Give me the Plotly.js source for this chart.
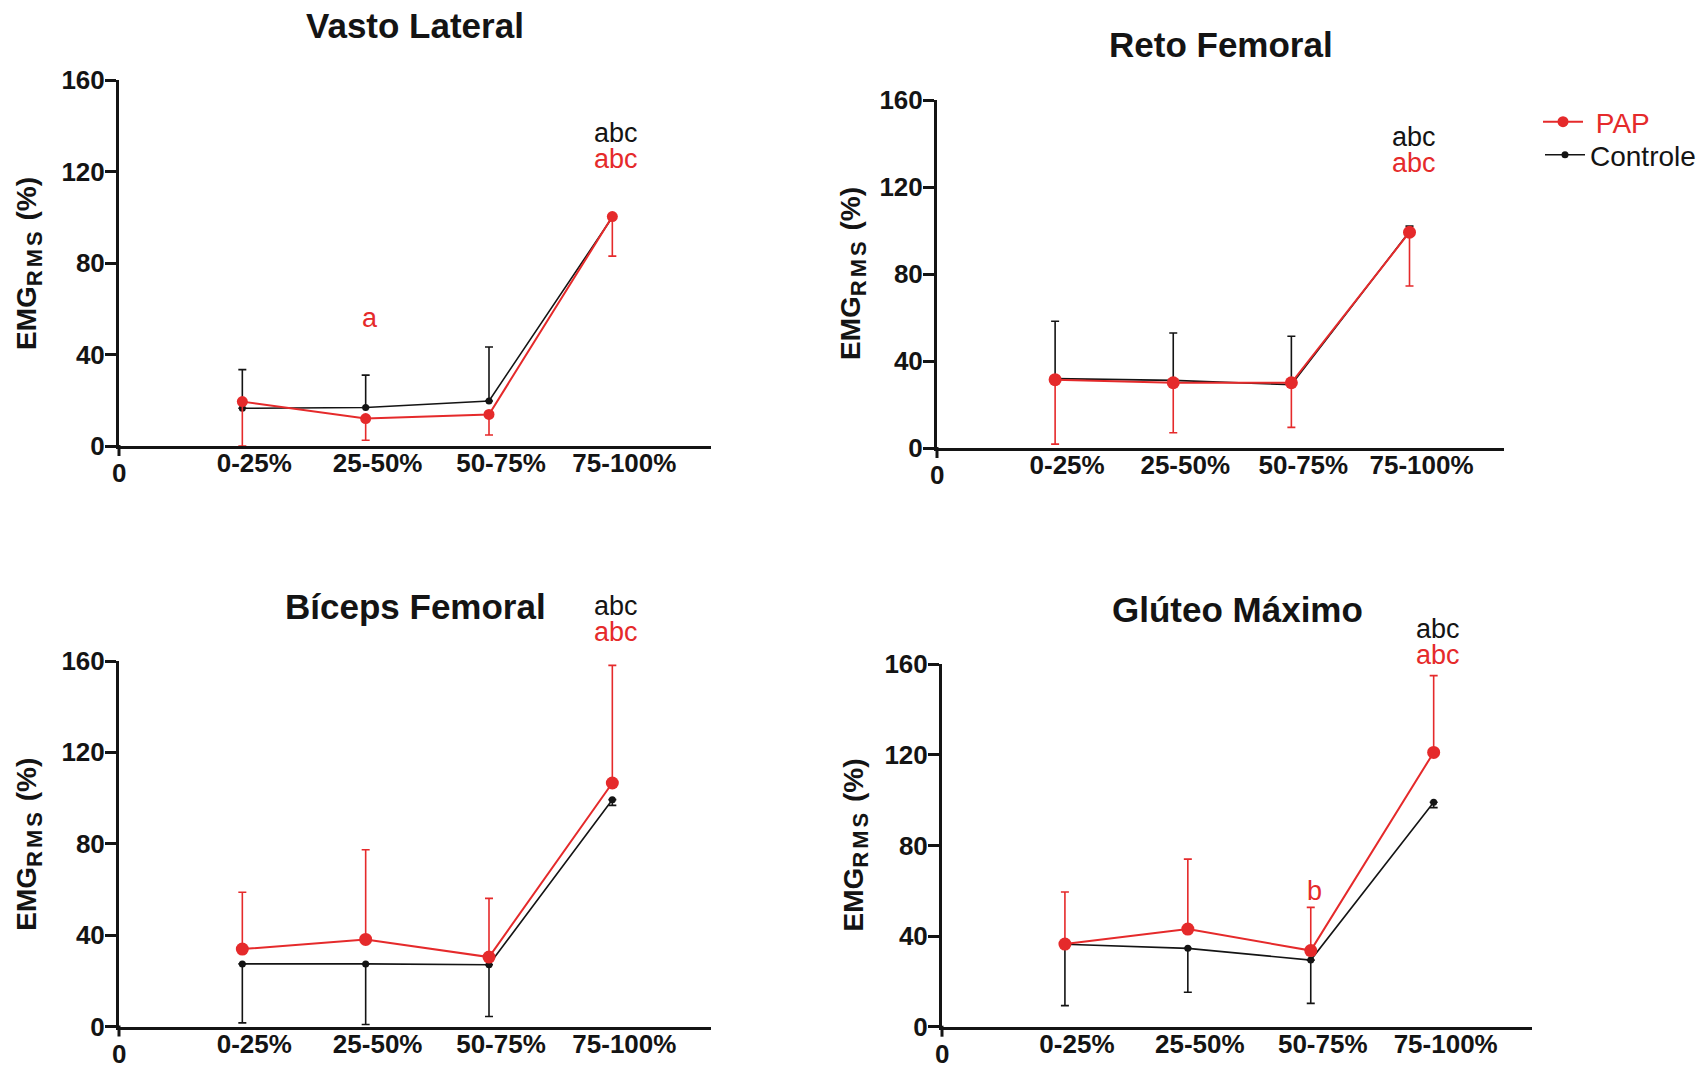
<!DOCTYPE html>
<html><head><meta charset="utf-8">
<script src="https://cdn.plot.ly/plotly-3.0.1.min.js"></script>
<style>html,body{margin:0;padding:0;background:#fff}</style>
</head><body><div id="chart" style="width:1704px;height:1067px"></div>
<script>
// ---------- DATA ----------
const categories = ['0-25%', '25-50%', '50-75%', '75-100%'];
const catIndex = [1, 2, 3, 4];
const panelTitles = ['Vasto Lateral', 'Reto Femoral', 'Bíceps Femoral', 'Glúteo Máximo'];
const yTickVals = [0, 40, 80, 120, 160];
const seriesNames = ['PAP', 'Controle'];

// Vasto Lateral
const vlPapMean = [19.4, 12.0, 13.8, 100.3];
const vlPapSD   = [19.4, 9.5, 9.0, 17.3];
const vlCtrlMean = [16.5, 16.8, 19.7, 100.0];
const vlCtrlSD   = [16.9, 14.2, 23.6, 0.0];
// Reto Femoral
const rfPapMean = [31.4, 30.0, 30.0, 99.2];
const rfPapSD   = [29.6, 23.0, 20.5, 24.7];
const rfCtrlMean = [31.9, 31.1, 29.1, 99.5];
const rfCtrlSD   = [26.4, 21.8, 22.3, 2.5];
// Bíceps Femoral
const bfPapMean = [33.9, 38.1, 30.4, 106.6];
const bfPapSD   = [24.9, 39.3, 25.7, 51.5];
const bfCtrlMean = [27.4, 27.4, 27.0, 99.3];
const bfCtrlSD   = [25.8, 26.5, 22.6, 2.5];
// Glúteo Máximo
const gmPapMean = [36.5, 43.1, 33.6, 121.1];
const gmPapSD   = [23.0, 30.9, 19.1, 33.9];
const gmCtrlMean = [36.4, 34.6, 29.4, 99.1];
const gmCtrlSD   = [27.1, 19.4, 19.1, 2.4];

// significance letters: [text, category index, y value, series]
const vlLetters = [['abc', 4, 137, 'ctrl'], ['abc', 4, 125.6, 'pap'], ['a', 2, 55.8, 'pap']];
const rfLetters = [['abc', 4, 143, 'ctrl'], ['abc', 4, 131, 'pap']];
const bfLetters = [['abc', 4, 184, 'ctrl'], ['abc', 4, 172.5, 'pap']];
const gmLetters = [['abc', 4, 175.6, 'ctrl'], ['abc', 4, 164, 'pap'], ['b', 3, 59.8, 'pap']];

// ---------- STYLE ----------
const RED = '#e52a2b';
const BLACK = '#141414';
const SANS = "'Liberation Sans', Arial, sans-serif";

const panels = [
  {pm: vlPapMean, ps: vlPapSD, cm: vlCtrlMean, cs: vlCtrlSD, letters: vlLetters, papUp: false,
   xd: [119, 711], yd: [446, 80], ytx: -90},
  {pm: rfPapMean, ps: rfPapSD, cm: rfCtrlMean, cs: rfCtrlSD, letters: rfLetters, papUp: false,
   xd: [937, 1504], yd: [448, 100], ytx: -84},
  {pm: bfPapMean, ps: bfPapSD, cm: bfCtrlMean, cs: bfCtrlSD, letters: bfLetters, papUp: true,
   xd: [119, 711], yd: [1026.5, 661], ytx: -90},
  {pm: gmPapMean, ps: gmPapSD, cm: gmCtrlMean, cs: gmCtrlSD, letters: gmLetters, papUp: true,
   xd: [942, 1532], yd: [1026.7, 664.3], ytx: -87}
];

const W = 1704, H = 1067;
const zeros = n => new Array(n).fill(0);
const traces = [];
const annotations = [];
const shapes = [];
const legendBase = {
  xanchor: 'left', yanchor: 'middle',
  font: {family: SANS, size: 28, color: BLACK},
  bgcolor: 'rgba(0,0,0,0)', itemwidth: 40
};
const layout = {
  width: W, height: H,
  margin: {l: 0, r: 0, t: 0, b: 0},
  paper_bgcolor: '#ffffff', plot_bgcolor: 'rgba(0,0,0,0)',
  showlegend: true,
  legend: Object.assign({}, legendBase, {x: 1538 / W, y: 1 - 122 / H}),
  legend2: Object.assign({}, legendBase, {x: 1540 / W, y: 1 - 155 / H}),
  annotations: annotations,
  shapes: shapes
};

panels.forEach((p, i) => {
  const n = i + 1;
  const xa = n === 1 ? 'x' : 'x' + n;
  const ya = n === 1 ? 'y' : 'y' + n;
  const xKey = n === 1 ? 'xaxis' : 'xaxis' + n;
  const yKey = n === 1 ? 'yaxis' : 'yaxis' + n;
  const xDom = [p.xd[0] / W, p.xd[1] / W];
  const yDom = [1 - p.yd[0] / H, 1 - p.yd[1] / H];

  layout[xKey] = {
    domain: xDom, anchor: ya, range: [0, 4.8], fixedrange: true,
    showline: true, linewidth: 3, linecolor: BLACK, mirror: false,
    showgrid: false, zeroline: false,
    tickmode: 'array', tickvals: catIndex, ticktext: categories,
    ticks: '', ticklabelshift: 12, ticklabelstandoff: -8,
    tickfont: {family: SANS, size: 26, color: BLACK, weight: 'bold'}
  };
  layout[yKey] = {
    domain: yDom, anchor: xa, range: [0, 160], fixedrange: true,
    showline: true, linewidth: 3, linecolor: BLACK,
    showgrid: false, zeroline: false,
    tickmode: 'array', tickvals: yTickVals,
    ticks: 'outside', ticklen: 11, tickwidth: 3, tickcolor: BLACK,
    ticklabelstandoff: -5,
    tickfont: {family: SANS, size: 26, color: BLACK, weight: 'bold'}
  };

  // Controle
  traces.push({
    type: 'scatter', mode: 'lines+markers', name: seriesNames[1],
    x: catIndex, y: p.cm, xaxis: xa, yaxis: ya,
    line: {color: BLACK, width: 1.6},
    marker: {color: BLACK, size: 7, symbol: 'circle'},
    error_y: {type: 'data', symmetric: false,
      array: p.papUp ? zeros(4) : p.cs, arrayminus: p.papUp ? p.cs : zeros(4),
      color: BLACK, thickness: 1.6, width: 4},
    showlegend: i === 0, legend: 'legend2', cliponaxis: false
  });
  // PAP
  traces.push({
    type: 'scatter', mode: 'lines+markers',
    name: '<span style="color:' + RED + '"> ' + seriesNames[0] + '</span>',
    x: catIndex, y: p.pm, xaxis: xa, yaxis: ya,
    line: {color: RED, width: 2},
    marker: {color: RED, size: i === 0 ? 11 : 13, symbol: 'circle'},
    error_y: {type: 'data', symmetric: false,
      array: p.papUp ? p.ps : zeros(4), arrayminus: p.papUp ? zeros(4) : p.ps,
      color: RED, thickness: 1.6, width: 4},
    showlegend: i === 0, legend: 'legend', cliponaxis: false
  });

  // panel title
  annotations.push({
    text: panelTitles[i], xref: xa + ' domain', yref: ya + ' domain',
    x: 0.5, y: 1, yshift: 55, xanchor: 'center', yanchor: 'middle', showarrow: false,
    font: {family: SANS, size: 35, color: BLACK, weight: 'bold'}
  });
  // y axis title
  annotations.push({
    text: 'EMG<sub><span style="font-size:22px;letter-spacing:3px">RMS</span></sub> (%)',
    xref: xa + ' domain', yref: ya + ' domain', x: 0, y: 0.5, xshift: p.ytx,
    xanchor: 'center', yanchor: 'middle', textangle: -90, showarrow: false,
    font: {family: SANS, size: 28, color: BLACK, weight: 'bold'}
  });
  // x-axis origin label "0"
  annotations.push({
    text: '0', xref: xa, yref: ya + ' domain', x: 0, y: 0, yshift: -27,
    xanchor: 'center', yanchor: 'middle', showarrow: false,
    font: {family: SANS, size: 26, color: BLACK, weight: 'bold'}
  });
  // significance letters
  p.letters.forEach(l => {
    annotations.push({
      text: l[0], xref: xa, yref: ya + ' domain', x: l[1], y: l[2] / 160,
      xanchor: 'center', yanchor: 'middle', showarrow: false, xshift: 4,
      font: {family: SANS, size: 27, color: l[3] === 'pap' ? RED : BLACK}
    });
  });
  // y axis extension below origin
  shapes.push({
    type: 'line', xref: 'paper', yref: 'paper',
    x0: xDom[0], x1: xDom[0], ysizemode: 'pixel', yanchor: yDom[0], y0: 1, y1: -10,
    line: {color: BLACK, width: 3}
  });
});

Plotly.newPlot('chart', traces, layout, {displayModeBar: false, staticPlot: true});
</script>
</body></html>
